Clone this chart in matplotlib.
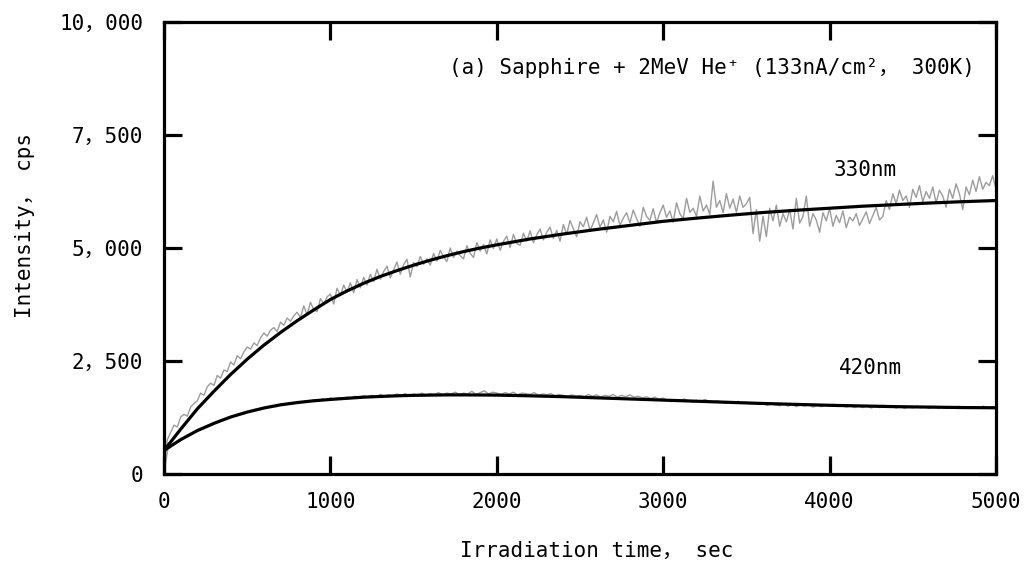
import numpy as np
import matplotlib
matplotlib.use("Agg")
import matplotlib.pyplot as plt

# Measured 330 nm luminescence intensity (cps), sampled every 20 s from 0 to 5000 s
intensity_330 = [
    0, 760, 920, 1080, 1040, 1260, 1320, 1280, 1480, 1560,
    1620, 1790, 1740, 1930, 2010, 1960, 2180, 2120, 2300, 2270,
    2480, 2410, 2620, 2550, 2700, 2810, 2760, 2900, 2840, 3010,
    3120, 3050, 3180, 3240, 3150, 3360, 3290, 3450, 3380, 3500,
    3580, 3460, 3720, 3520, 3800, 3640, 3590, 3880, 3760, 3920,
    3980, 3760, 4110, 3950, 4180, 4020, 4230, 4010, 4300, 4120,
    4350, 4180, 4420, 4260, 4530, 4310, 4480, 4600, 4340, 4520,
    4690, 4420, 4630, 4750, 4360, 4680, 4590, 4810, 4640, 4760,
    4620, 4880, 4710, 4950, 4800, 4700, 5000, 4790, 4930, 4830,
    4760, 5050, 4880, 4790, 5120, 4930, 5080, 4870, 5180, 4990,
    5200, 4950, 5150, 5260, 5010, 5300, 5100, 5060, 5330, 5150,
    5380, 5120, 5290, 5420, 5180, 5350, 5460, 5210, 5390, 5150,
    5520, 5300, 5610, 5420, 5250, 5580, 5470, 5680, 5390, 5550,
    5740, 5460, 5620, 5350, 5700, 5580, 5810, 5500, 5660, 5780,
    5560, 5840, 5650, 5480, 5900, 5700, 5610, 5870, 5560, 5780,
    5950, 5680, 5820, 5570, 6000, 5760, 5650, 6100, 5790, 5880,
    5700, 6150, 5820, 5950, 5740, 6480, 5900, 6050, 5780, 6200,
    5880, 6080, 5790, 6150, 5900, 5980, 6120, 5320, 5850, 5150,
    5700, 5250, 5880, 5600, 5950, 5480, 5760, 5580, 5850, 5420,
    6100, 5550, 5700, 6150, 5480, 5760, 5620, 5350, 5780, 5600,
    5880, 5480, 5720, 5560, 5820, 5450, 5680, 5600, 5760, 5500,
    5650, 5800, 5540, 5720, 5900, 5620, 5700, 6050, 5850, 6200,
    5980, 6280, 6050, 6150, 5900, 6300, 6120, 6380, 6020, 6250,
    6100, 6350, 6000, 6280, 6150, 5900, 6300, 6100, 6420, 6200,
    5850, 6350, 6180, 6500, 6250, 6580, 6300, 6450, 6380, 6600,
    6300,
]

# Measured 420 nm luminescence intensity (cps), sampled every 25 s from 0 to 5000 s
intensity_420 = [
    0, 600, 640, 700, 740, 810, 840, 900, 950, 990,
    1040, 1060, 1130, 1150, 1200, 1220, 1270, 1280, 1330, 1320,
    1380, 1390, 1430, 1420, 1470, 1480, 1510, 1490, 1540, 1550,
    1570, 1550, 1600, 1580, 1620, 1600, 1640, 1620, 1660, 1640,
    1680, 1650, 1690, 1660, 1700, 1680, 1720, 1690, 1730, 1700,
    1740, 1710, 1760, 1720, 1750, 1730, 1770, 1740, 1780, 1730,
    1770, 1750, 1790, 1740, 1780, 1760, 1800, 1750, 1790, 1770,
    1810, 1760, 1790, 1770, 1830, 1760, 1800, 1840, 1770, 1810,
    1790, 1760, 1800, 1770, 1810, 1750, 1790, 1780, 1760, 1800,
    1740, 1770, 1750, 1780, 1730, 1760, 1740, 1710, 1750, 1720,
    1740, 1710, 1760, 1720, 1750, 1700, 1740, 1720, 1760, 1700,
    1740, 1710, 1750, 1700, 1720, 1680, 1710, 1670, 1700, 1650,
    1680, 1620, 1600, 1640, 1610, 1660, 1620, 1590, 1630, 1600,
    1650, 1610, 1580, 1620, 1590, 1560, 1600, 1570, 1610, 1560,
    1590, 1550, 1580, 1540, 1570, 1520, 1560, 1530, 1510, 1550,
    1500, 1540, 1490, 1530, 1500, 1540, 1480, 1520, 1490, 1530,
    1500, 1540, 1490, 1520, 1480, 1510, 1470, 1500, 1470, 1510,
    1460, 1500, 1470, 1520, 1480, 1500, 1460, 1490, 1450, 1480,
    1460, 1500, 1470, 1490, 1450, 1500, 1460, 1480, 1450, 1490,
    1470, 1500, 1460, 1480, 1450, 1490, 1470, 1500, 1460, 1490,
    1480,
]

# Fitted curves (cps) at the fit time nodes (s)
fit_time = [0, 100, 200, 300, 400, 500, 600, 700, 800, 900, 1000,
            1100, 1200, 1300, 1400, 1500, 1600, 1700, 1800, 1900, 2000,
            2200, 2400, 2600, 2800, 3000, 3200, 3400, 3600, 3800, 4000,
            4200, 4400, 4600, 4800, 5000]
fit_330 = [520, 990, 1440, 1830, 2200, 2540, 2850, 3130, 3390, 3630, 3860,
           4050, 4220, 4370, 4500, 4620, 4730, 4830, 4920, 5000, 5070,
           5200, 5310, 5410, 5500, 5590, 5660, 5725, 5785, 5835, 5880,
           5925, 5960, 5995, 6025, 6050]
fit_420 = [520, 760, 960, 1120, 1260, 1370, 1460, 1530, 1580, 1620, 1650,
           1675, 1700, 1715, 1730, 1740, 1745, 1750, 1750, 1748, 1745,
           1730, 1710, 1685, 1660, 1635, 1610, 1585, 1560, 1540, 1520,
           1505, 1490, 1480, 1470, 1465]

x_ticks = [0, 1000, 2000, 3000, 4000, 5000]
y_ticks = [0, 2500, 5000, 7500, 10000]
y_tick_labels = ["0", "2，500", "5，000", "7，500", "10，000"]

FONT = ["DejaVu Sans Mono", "Noto Sans CJK JP"]
plt.rcParams["font.family"] = FONT
plt.rcParams["font.size"] = 15

time_330 = np.linspace(0, 5000, len(intensity_330))
time_420 = np.linspace(0, 5000, len(intensity_420))

fig = plt.figure(figsize=(10.29, 5.77), dpi=100)
ax = fig.add_axes([164 / 1029, 103 / 577, 832 / 1029, 452 / 577])

ax.plot(time_330, intensity_330, color="#9c9c9c", lw=1.0, zorder=2)
ax.plot(time_420, intensity_420, color="#9c9c9c", lw=1.0, zorder=2)
ax.plot(fit_time, fit_330, color="black", lw=2.3, zorder=3)
ax.plot(fit_time, fit_420, color="black", lw=2.3, zorder=3)

ax.set_xlim(0, 5000)
ax.set_ylim(0, 10000)
ax.set_xticks(x_ticks)
ax.set_xticklabels([str(v) for v in x_ticks])
ax.set_yticks(y_ticks)
ax.set_yticklabels(y_tick_labels)

for side in ax.spines.values():
    side.set_linewidth(2.3)
ax.tick_params(direction="in", length=13, width=2.3, top=True, right=True,
               labelsize=15)
ax.tick_params(axis="x", pad=13)
ax.tick_params(axis="y", pad=15)

ax.set_xlabel("Irradiation time， sec", fontsize=15)
ax.xaxis.set_label_coords(0.52, -0.17)
ax.xaxis.label.set_va("center")
ax.set_ylabel("Intensity， cps", fontsize=15)
ax.yaxis.set_label_coords(-0.167, 0.55)
ax.yaxis.label.set_va("center")

ax.text(0.975, 0.898, "(a) Sapphire + 2MeV He⁺ (133nA/cm²， 300K)",
        transform=ax.transAxes, ha="right", va="center", fontsize=15)
ax.text(4213, 6726, "330nm", ha="center", va="center", fontsize=15)
ax.text(4243, 2345, "420nm", ha="center", va="center", fontsize=15)

fig.savefig("out.png", dpi=100)
